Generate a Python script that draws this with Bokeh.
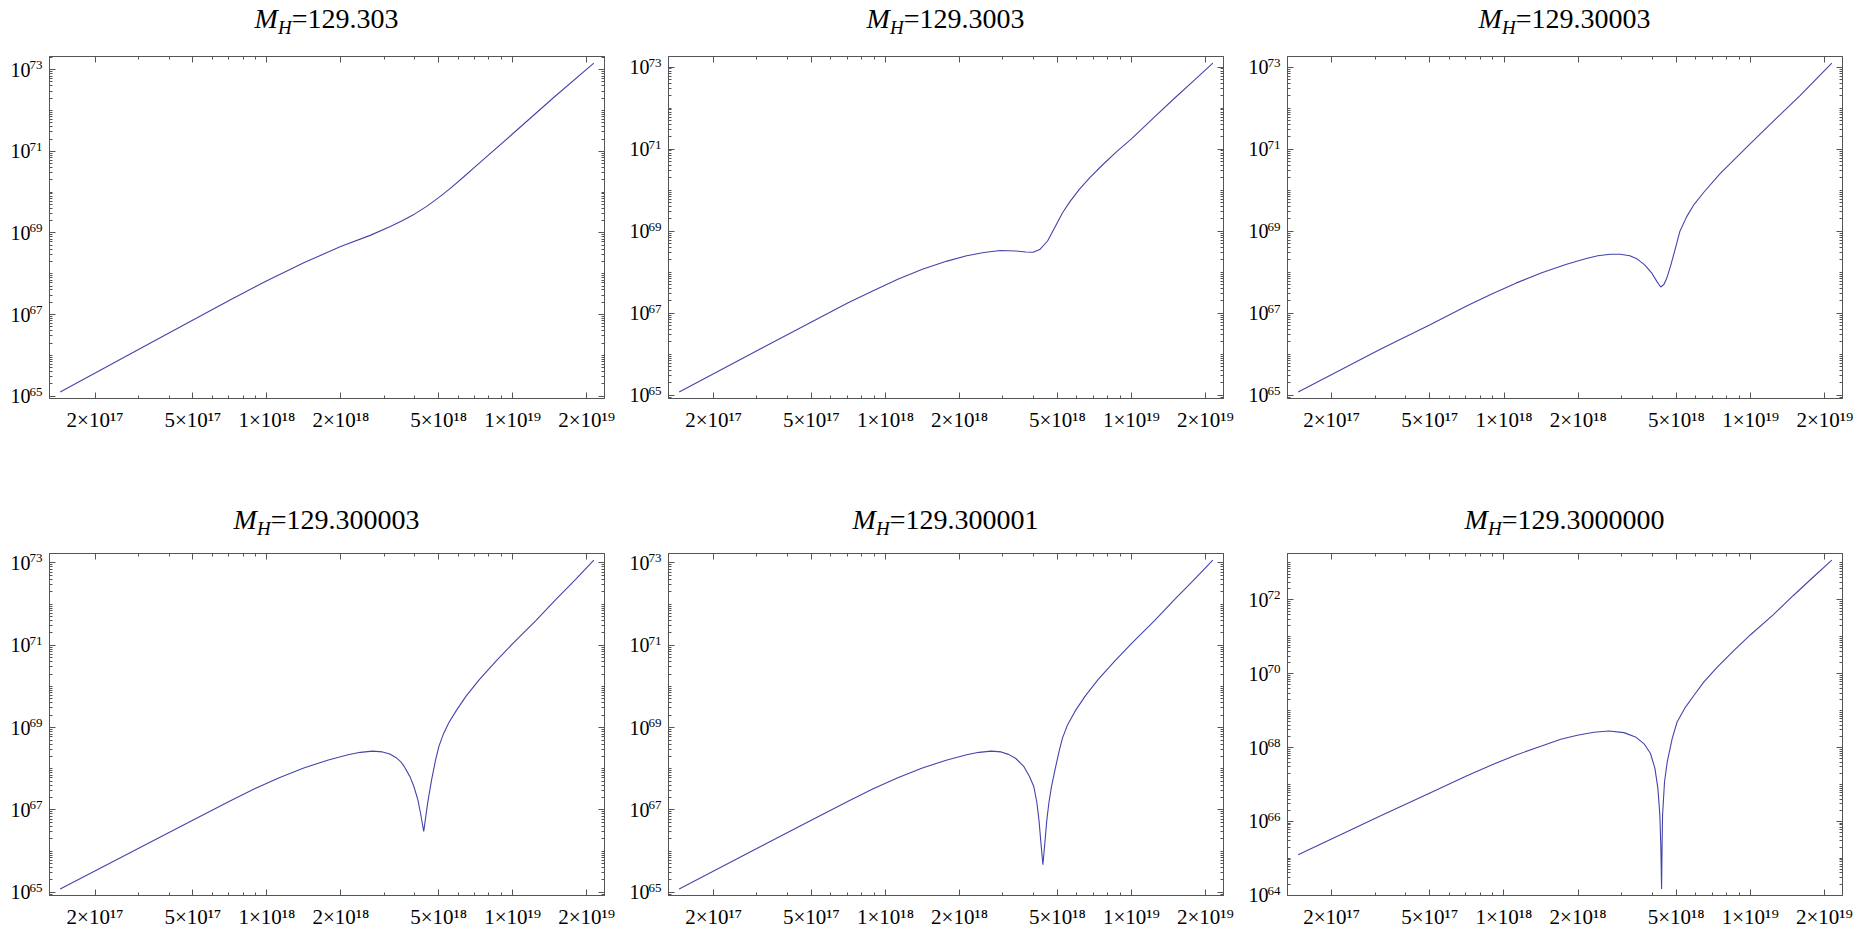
from bokeh.plotting import figure
from bokeh.models import Range1d, LogAxis, FixedTicker, CustomJSTickFormatter, Div
from bokeh.layouts import row, column
from bokeh.embed import file_html
from bokeh.resources import INLINE

# ---------------- data (log10 of x and of y) ----------------
titles = ["129.303", "129.3003", "129.30003", "129.300003", "129.300001", "129.3000000"]

lx1 = [17.159, 17.5, 17.85, 18.0, 18.15, 18.3, 18.42, 18.5, 18.55, 18.6, 18.65, 18.7, 18.75, 18.8,
       18.85, 19.0, 19.169, 19.33]
ly1 = [65.104, 66.215, 67.356, 67.83, 68.27, 68.665, 68.94, 69.15, 69.3, 69.46, 69.65, 69.87, 70.11,
       70.37, 70.635, 71.43, 72.33, 73.162]

lx2 = [17.161, 17.5, 17.701, 17.85, 17.95, 18.05, 18.15, 18.25, 18.33, 18.4, 18.466, 18.53, 18.57,
       18.6, 18.627, 18.659, 18.691, 18.72, 18.75, 18.788, 18.83, 18.88, 18.94, 19.0, 19.09,
       19.175, 19.256, 19.331]
ly2 = [65.081, 66.16, 66.794, 67.26, 67.55, 67.83, 68.07, 68.27, 68.4, 68.48, 68.53, 68.515, 68.49,
       68.485, 68.55, 68.76, 69.12, 69.45, 69.72, 70.02, 70.3, 70.6, 70.94, 71.25, 71.76,
       72.24, 72.68, 73.097]

lx3 = [17.165, 17.5, 17.7, 17.85, 17.95, 18.05, 18.15, 18.25, 18.33, 18.38, 18.43, 18.47, 18.51,
       18.54, 18.57, 18.6, 18.62, 18.635, 18.648, 18.66, 18.675, 18.69, 18.713, 18.74, 18.77,
       18.81, 18.875, 18.981, 19.086, 19.199, 19.329]
ly3 = [65.081, 66.13, 66.72, 67.18, 67.47, 67.74, 67.98, 68.19, 68.33, 68.4, 68.44, 68.44, 68.4,
       68.32, 68.18, 67.97, 67.77, 67.64, 67.7, 67.86, 68.15, 68.48, 69.0, 69.35, 69.65,
       69.95, 70.4, 71.03, 71.65, 72.3, 73.10]

lx4 = [17.159, 17.5, 17.7, 17.85, 17.95, 18.05, 18.15, 18.25, 18.33, 18.38, 18.43, 18.47, 18.5,
       18.526, 18.545, 18.558, 18.582, 18.598, 18.614, 18.625, 18.638, 18.654, 18.67, 18.686,
       18.70, 18.719, 18.74, 18.771, 18.811, 18.865, 18.933, 19.0, 19.094, 19.175, 19.256, 19.33]
ly4 = [65.082, 66.135, 66.755, 67.22, 67.515, 67.785, 68.02, 68.215, 68.34, 68.40, 68.43, 68.41, 68.36,
       68.27, 68.17, 68.06, 67.81, 67.57, 67.25, 66.92, 66.48, 67.17, 67.73, 68.21,
       68.55, 68.86, 69.12, 69.42, 69.77, 70.17, 70.62, 71.04, 71.6, 72.11, 72.6, 73.07]

lx5 = [17.161, 17.5, 17.7, 17.85, 17.95, 18.05, 18.15, 18.25, 18.33, 18.38, 18.43, 18.47, 18.5,
       18.53, 18.563, 18.585, 18.603, 18.615, 18.624, 18.632, 18.64, 18.648, 18.656, 18.665,
       18.675, 18.69, 18.707, 18.72, 18.739, 18.771, 18.811, 18.865, 18.933, 19.0, 19.094, 19.175,
       19.256, 19.331]
ly5 = [65.082, 66.135, 66.755, 67.22, 67.515, 67.785, 68.02, 68.215, 68.34, 68.40, 68.43, 68.41, 68.35,
       68.25, 68.05, 67.82, 67.568, 67.2, 66.76, 66.2, 65.67, 66.2, 66.76, 67.2,
       67.568, 68.0, 68.456, 68.75, 69.05, 69.4, 69.76, 70.17, 70.62, 71.04, 71.6, 72.11,
       72.6, 73.07]

lx6 = [17.165, 17.5, 17.7, 17.85, 17.95, 18.05, 18.15, 18.231, 18.298, 18.366, 18.426, 18.487,
       18.534, 18.568, 18.595, 18.613, 18.625, 18.633, 18.637, 18.640, 18.642, 18.644, 18.652,
       18.663, 18.683, 18.703, 18.737, 18.771, 18.811, 18.865, 18.933, 19.0, 19.094, 19.175,
       19.256, 19.331]
ly6 = [65.099, 66.15, 66.77, 67.235, 67.53, 67.8, 68.035, 68.225, 68.333, 68.414, 68.449, 68.404,
       68.288, 68.108, 67.838, 67.434, 66.894, 66.175, 65.3, 64.17, 65.3, 66.175, 67.074,
       67.613, 68.243, 68.692, 69.097, 69.411, 69.771, 70.175, 70.625, 71.05, 71.6, 72.12,
       72.62, 73.079]

x_major = [2e17, 5e17, 1e18, 2e18, 5e18, 1e19, 2e19]
x_minor = [3e17, 4e17, 6e17, 7e17, 8e17, 9e17, 3e18, 4e18, 6e18, 7e18, 8e18, 9e18]
y_major_odd = [65, 67, 69, 71, 73]
y_major_even = [64, 66, 68, 70, 72]

# ---------------- styling ----------------
FONT = "Liberation Serif"
CURVE = "#4444aa"
FRAME = "#555555"
FW, FH = 555, 342
BLANK = "return '';"

X_FMT = """
const sup = {"0":"\u2070","1":"\u00b9","2":"\u00b2","3":"\u00b3","4":"\u2074","5":"\u2075",
             "6":"\u2076","7":"\u2077","8":"\u2078","9":"\u2079"};
const e = Math.floor(Math.log10(tick) + 1e-6);
const m = Math.round(tick / Math.pow(10, e));
return m + "\u00d710" + String(e).split("").map(c => sup[c]).join("");
"""


def y_ticks(major_exps, lo, hi):
    maj = [10.0 ** e for e in major_exps]
    mins = []
    for n in range(int(lo) - 1, int(hi) + 2):
        for k in range(1, 10):
            if k == 1 and n in major_exps:
                continue
            mins.append(k * 10.0 ** n)
    return maj, mins


def style_axis(ax, blank=True):
    ax.axis_line_color = FRAME
    ax.axis_line_width = 1
    ax.major_tick_line_color = FRAME
    ax.minor_tick_line_color = FRAME
    ax.major_tick_in = 6
    ax.major_tick_out = 0
    ax.minor_tick_in = 3
    ax.minor_tick_out = 0
    ax.major_label_standoff = 0
    ax.major_label_text_font = FONT
    ax.major_label_text_color = "#000000"
    if blank:
        ax.formatter = CustomJSTickFormatter(code=BLANK)


def label_axis(ticks, code, size, standoff):
    ax = LogAxis(ticker=FixedTicker(ticks=ticks), formatter=CustomJSTickFormatter(code=code))
    ax.axis_line_color = None
    ax.major_tick_line_color = None
    ax.minor_tick_line_color = None
    ax.major_tick_in = 0
    ax.major_tick_out = 0
    ax.minor_tick_in = 0
    ax.minor_tick_out = 0
    ax.major_label_standoff = standoff
    ax.major_label_text_font = FONT
    ax.major_label_text_font_size = "%dpx" % size
    ax.major_label_text_color = "#000000"
    return ax


def make_panel(lx, ly, ymaj_exps, bl, br, bt, bb):
    xpad = 0.02 * (max(lx) - min(lx))
    ypad = 0.02 * (max(ly) - min(ly))
    ylo, yhi = min(ly) - ypad, max(ly) + ypad
    p = figure(x_axis_type="log", y_axis_type="log", frame_width=FW, frame_height=FH,
               x_range=Range1d(10 ** (min(lx) - xpad), 10 ** (max(lx) + xpad)),
               y_range=Range1d(10 ** ylo, 10 ** yhi),
               min_border_left=bl, min_border_right=br, min_border_top=bt, min_border_bottom=bb,
               toolbar_location=None, output_backend="svg",
               background_fill_color="white", border_fill_color="white")
    p.xgrid.visible = False
    p.ygrid.visible = False
    p.outline_line_color = FRAME
    p.outline_line_width = 1
    ymaj, ymin = y_ticks(ymaj_exps, ylo, yhi)

    # bottom axis: ticks + labels "m×10^e"
    xa = p.xaxis[0]
    xa.ticker = FixedTicker(ticks=x_major, minor_ticks=x_minor)
    style_axis(xa, blank=False)
    xa.formatter = CustomJSTickFormatter(code=X_FMT)
    xa.major_label_text_font_size = "21px"
    xa.major_label_standoff = 9

    # left axis: ticks only; labels "10" and raised exponent on two extra axes
    ya = p.yaxis[0]
    ya.ticker = FixedTicker(ticks=ymaj, minor_ticks=ymin)
    style_axis(ya)
    px_per_dec = FH / (yhi - ylo)
    shift = 4.5 / px_per_dec
    exp_code = "return String(Math.round(Math.log10(tick) - %f));" % shift
    p.add_layout(label_axis([10.0 ** (e + shift) for e in ymaj_exps], exp_code, 13, 7), "left")
    p.add_layout(label_axis(ymaj, "return '10';", 20, -4), "left")

    top = LogAxis(ticker=FixedTicker(ticks=x_major, minor_ticks=x_minor))
    style_axis(top)
    p.add_layout(top, "above")
    right = LogAxis(ticker=FixedTicker(ticks=ymaj, minor_ticks=ymin))
    style_axis(right)
    p.add_layout(right, "right")

    p.line([10 ** v for v in lx], [10 ** v for v in ly], line_color=CURVE, line_width=1.1)
    return p


def make_title(t, bl, br, height, pad_top):
    html = ('<div style="margin-left:%dpx;width:%dpx;text-align:center;padding-top:%dpx;'
            'font-family:\'Liberation Serif\';font-size:28px;line-height:30px;color:#000;'
            'white-space:nowrap"><i>M</i><sub style="font-size:19px;line-height:0;'
            'vertical-align:-6px"><i>H</i></sub>=%s</div>') % (bl, FW, pad_top, t)
    return Div(text=html, width=bl + FW + br, height=height, margin=(0, 0, 0, 0))


borders_lr = [(49, 14), (50, 14), (50, 24)]
datasets = [(lx1, ly1, y_major_odd), (lx2, ly2, y_major_odd), (lx3, ly3, y_major_odd),
            (lx4, ly4, y_major_odd), (lx5, ly5, y_major_odd), (lx6, ly6, y_major_even)]

cols_r1, cols_r2 = [], []
for i, (lx, ly, ym) in enumerate(datasets):
    bl, br = borders_lr[i % 3]
    if i < 3:
        p = make_panel(lx, ly, ym, bl, br, 16, 32)
        t = make_title(titles[i], bl, br, 40, 4)
        cols_r1.append(column(t, p, spacing=0, margin=(0, 0, 0, 0)))
    else:
        p = make_panel(lx, ly, ym, bl, br, 13, 34)
        t = make_title(titles[i], bl, br, 106, 71)
        cols_r2.append(column(t, p, spacing=0, margin=(0, 0, 0, 0)))

layout = column(row(*cols_r1, spacing=0, margin=(0, 0, 0, 0)),
                row(*cols_r2, spacing=0, margin=(0, 0, 0, 0)),
                spacing=0, margin=(0, 0, 0, 0))

open("out.html", "w").write(file_html(layout, INLINE))
